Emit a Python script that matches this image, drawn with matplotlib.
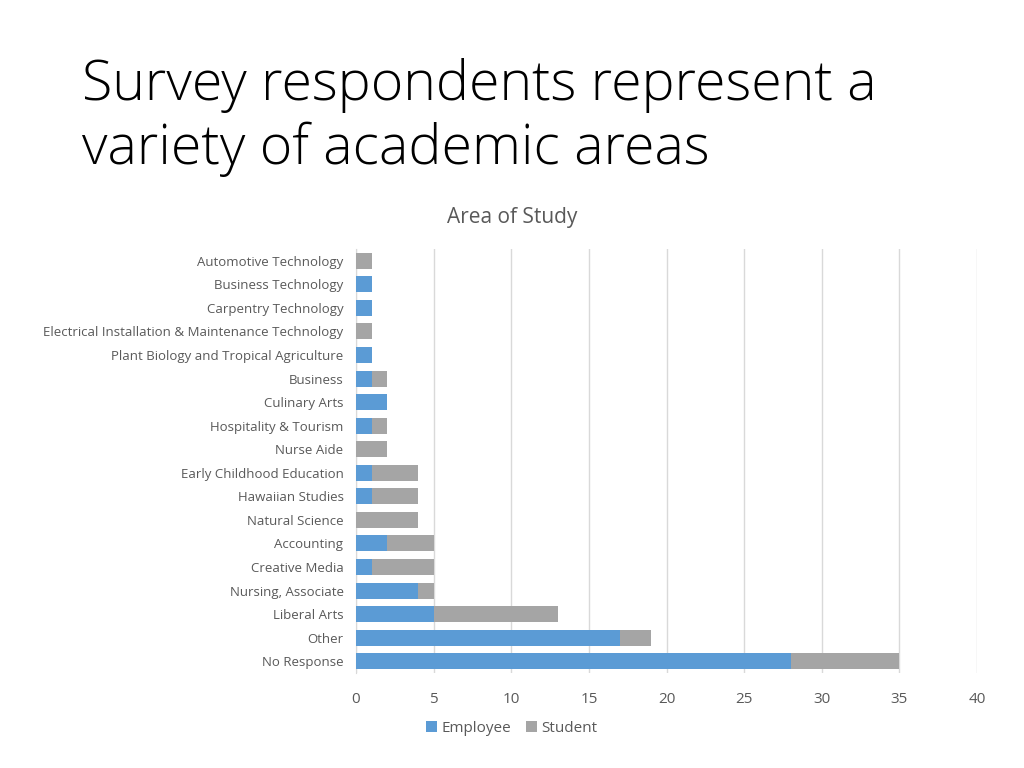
import matplotlib.pyplot as plt
import numpy as np

# Area of study categories, top to bottom as shown
areas = [
    "Automotive Technology",
    "Business Technology",
    "Carpentry Technology",
    "Electrical Installation & Maintenance Technology",
    "Plant Biology and Tropical Agriculture",
    "Business",
    "Culinary Arts",
    "Hospitality & Tourism",
    "Nurse Aide",
    "Early Childhood Education",
    "Hawaiian Studies",
    "Natural Science",
    "Accounting",
    "Creative Media",
    "Nursing, Associate",
    "Liberal Arts",
    "Other",
    "No Response",
]
employee = [0, 1, 1, 0, 1, 1, 2, 1, 0, 1, 1, 0, 2, 1, 4, 5, 17, 28]
student = [1, 0, 0, 1, 0, 1, 0, 1, 2, 3, 3, 4, 3, 4, 1, 8, 2, 7]
x_ticks = [0, 5, 10, 15, 20, 25, 30, 35, 40]

blue = "#5B9BD5"
gray = "#A5A5A5"
text_gray = "#595959"

plt.rcParams["font.family"] = ["Open Sans", "DejaVu Sans"]

fig = plt.figure(figsize=(10.24, 7.68), dpi=100)
fig.patch.set_facecolor("white")

# slide title
fig.text(82 / 1024, 1 - 58 / 768, "Survey respondents represent a\nvariety of academic areas",
         fontsize=40, fontweight="light", color="black", va="top", ha="left",
         linespacing=1.2)

ax = fig.add_axes([356 / 1024, 1 - 673 / 768, (977 - 356) / 1024, (673 - 249) / 768])
y = np.arange(len(areas))
ax.barh(y, employee, height=0.68, color=blue, label="Employee", zorder=3)
ax.barh(y, student, left=employee, height=0.68, color=gray, label="Student", zorder=3)

ax.set_ylim(len(areas) - 0.5, -0.5)
ax.set_xlim(0, 40)
ax.set_xticks(x_ticks)
ax.set_yticks(y)
ax.set_yticklabels(areas)
ax.tick_params(axis="y", length=0, pad=9, labelsize=9.5, labelcolor=text_gray)
ax.tick_params(axis="x", length=0, pad=14, labelsize=11, labelcolor=text_gray)
ax.grid(axis="x", color="#D9D9D9", linewidth=1, zorder=0)
for s in ["top", "right", "bottom"]:
    ax.spines[s].set_visible(False)
ax.spines["left"].set_color("#D9D9D9")

fig.text(512 / 1024, 1 - 217 / 768, "Area of Study", fontsize=15, color=text_gray,
         ha="center", va="center")

handles, labels = ax.get_legend_handles_labels()
fig.legend(handles, labels, loc="center", bbox_to_anchor=(512 / 1024, 1 - 728 / 768),
           ncol=2, frameon=False, fontsize=11, labelcolor=text_gray,
           handlelength=0.7, handleheight=0.7, handletextpad=0.3, columnspacing=1.0)

fig.savefig("out.png", dpi=100)
